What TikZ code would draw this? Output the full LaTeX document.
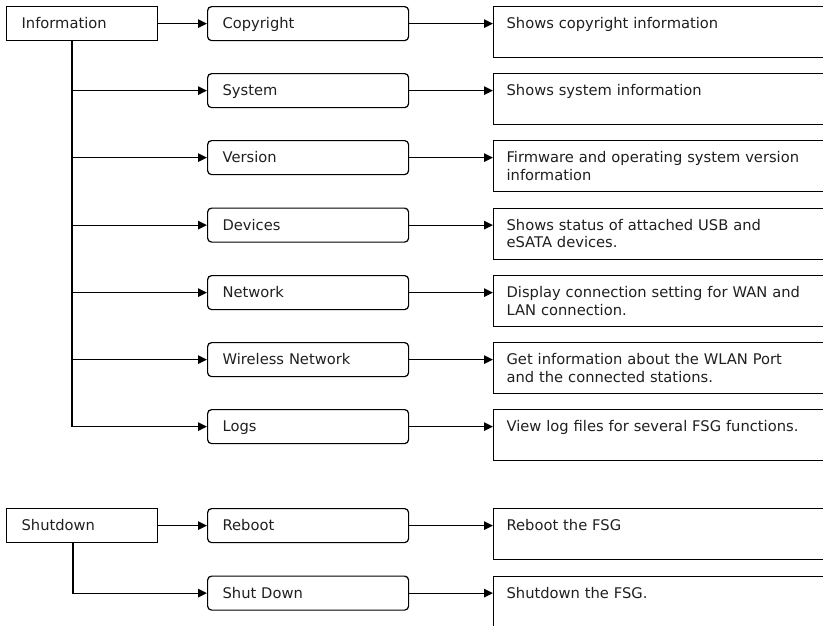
\documentclass[tikz,border=0pt]{standalone}
\usepackage{fontspec}
\setmainfont{DejaVu Sans}
\usetikzlibrary{arrows.meta}
\begin{document}
\begin{tikzpicture}[x=1pt,y=-1pt,
  every node/.style={font=\fontsize{14.7}{17.8}\selectfont, text=black!88},
  lbox/.style={draw, line width=1.2pt, rectangle, anchor=north west,
    text width=121pt, inner xsep=15pt, inner ysep=0pt,
    text height=22pt, text depth=12pt, align=left},
  mbox/.style={lbox, rounded corners=4pt, text width=171pt},
  rbox/.style={draw, line width=1.2pt, rectangle, anchor=north west,
    text width=321pt, inner xsep=13pt, inner ysep=0pt,
    text height=22pt, text depth=29pt, align=left},
  conn/.style={line width=1.2pt, -{Triangle[length=9pt,width=8.5pt]}},
  trunk/.style={line width=1.2pt}
]
\useasboundingbox (0,0) rectangle (823,625);
\clip (0,0) rectangle (823,625);

% Information group
\node[lbox] (info) at (6,6) {Information};
\node[mbox] (copy) at (207,6) {Copyright};
\node[mbox] (sys)  at (207,73) {System};
\node[mbox] (ver)  at (207,140) {Version};
\node[mbox] (dev)  at (207,207.5) {Devices};
\node[mbox] (net)  at (207,275) {Network};
\node[mbox] (wifi) at (207,342) {Wireless Network};
\node[mbox] (logs) at (207,409) {Logs};

\node[rbox] (dcopy) at (493,6) {Shows copyright information};
\node[rbox] (dsys)  at (493,73) {Shows system information};
\node[rbox] (dver)  at (493,140) {Firmware and operating system version\\information};
\node[rbox] (ddev)  at (493,207.5) {Shows status of attached USB and\\eSATA devices.};
\node[rbox] (dnet)  at (493,275) {Display connection setting for WAN and\\LAN connection.};
\node[rbox] (dwifi) at (493,342) {Get information about the WLAN Port\\and the connected stations.};
\node[rbox] (dlogs) at (493,409) {View log files for several FSG functions.};

\coordinate (ib) at (72,40);
\draw[conn] (info.east) -- (copy.west);
\draw[trunk] (ib) -- (ib |- logs.west);
\foreach \n in {sys,ver,dev,net,wifi,logs}{
  \draw[conn] (ib |- \n.west) -- (\n.west);
}
\foreach \a/\b in {copy/dcopy,sys/dsys,ver/dver,dev/ddev,net/dnet,wifi/dwifi,logs/dlogs}{
  \draw[conn] (\a.east) -- (\a.east -| \b.west);
}

% Shutdown group
\node[lbox] (shut) at (6,508) {Shutdown};
\node[mbox] (reb)  at (207,508) {Reboot};
\node[mbox] (sd)   at (207,575.5) {Shut Down};
\node[rbox] (dreb) at (493,508) {Reboot the FSG};
\node[rbox] (dsd)  at (493,575.5) {Shutdown the FSG.};

\coordinate (sb) at (73,542);
\draw[conn] (shut.east) -- (reb.west);
\draw[conn] (sb) |- (sd.west);
\draw[conn] (reb.east) -- (reb.east -| dreb.west);
\draw[conn] (sd.east) -- (sd.east -| dsd.west);
\end{tikzpicture}
\end{document}
